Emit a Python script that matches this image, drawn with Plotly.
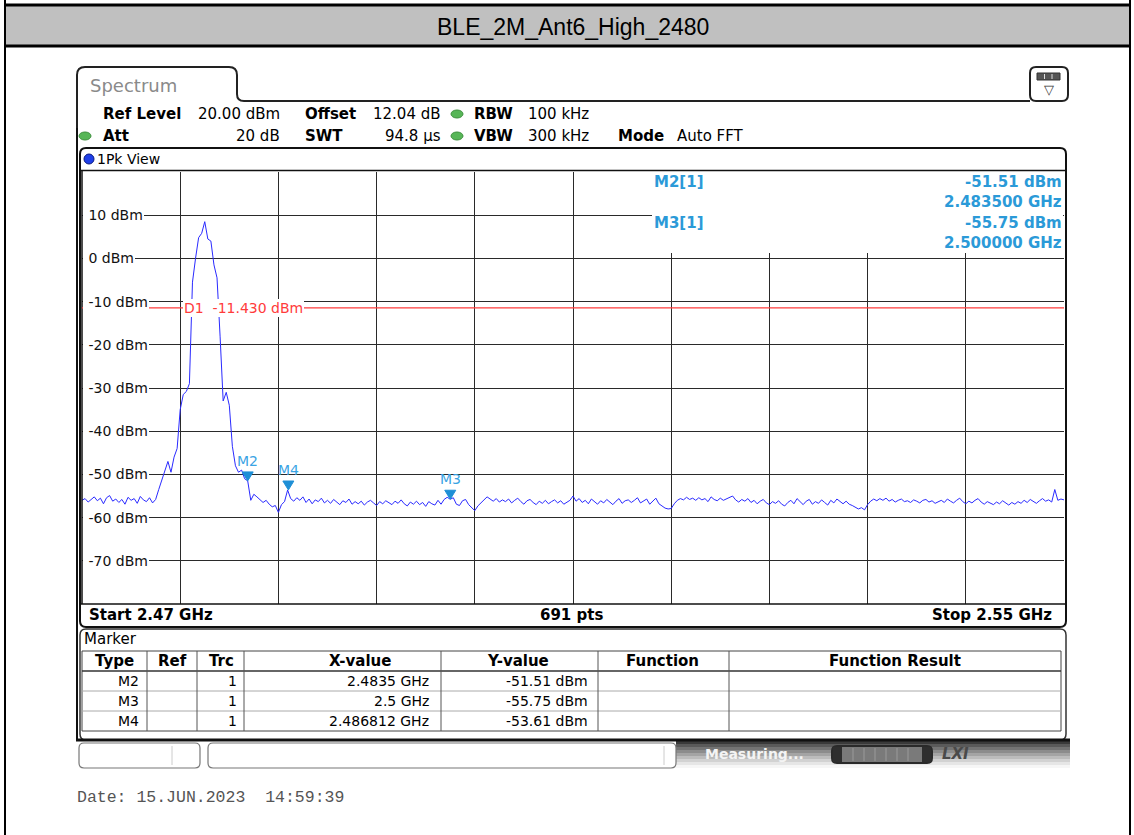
import numpy as np
import plotly.graph_objects as go

# ---------------- sweep / trace data ----------------
start_ghz = 2.47
stop_ghz = 2.55
sweep_points = 691

# Trace 1 (1Pk), dBm, read every 0.25 MHz from 2.470 to 2.550 GHz
trace_dbm = [
    -56.0, -55.6, -56.4, -55.9, -55.2, -56.1, -55.5, -56.8, -55.4, -54.9,
    -56.2, -55.7, -56.5, -55.8, -56.9, -55.3, -56.0, -55.6, -56.7, -55.1,
    -55.9, -56.3, -55.4, -56.6, -55.8, -53.5, -51.5, -49.0, -47.0, -49.5,
    -46.0, -44.0, -35.0, -31.5, -30.8, -29.0, -5.5, 0.0, 4.8, 5.8,
    8.5, 4.5, 4.0, -1.5, -4.5, -18.0, -33.0, -31.0, -34.0, -43.5,
    -48.0, -49.5, -49.0, -51.0, -51.51, -56.0, -54.6, -55.2, -55.8, -56.5,
    -56.0, -56.9, -57.5, -57.2, -58.8, -57.0, -56.3, -53.61, -55.6, -56.2,
    -55.4, -56.0, -55.2, -56.5, -55.7, -56.8, -55.9, -56.3, -55.5, -56.6,
    -56.0, -56.7, -55.8, -56.4, -57.0, -56.1, -56.5, -55.7, -56.9, -56.3,
    -56.8, -56.2, -57.1, -56.4, -56.0, -56.6, -57.2, -56.3, -56.8, -56.1,
    -56.5, -57.0, -56.2, -56.7, -55.9, -56.8, -57.3, -56.4, -56.9, -56.2,
    -57.0, -56.5, -57.4, -56.3, -56.8, -57.1, -56.0, -56.9, -55.8, -55.3,
    -55.75, -55.4, -56.9, -57.2, -56.1, -55.8, -57.0, -57.6, -58.4, -57.3,
    -56.5, -55.9, -55.2, -55.8, -56.2, -55.6, -56.4, -55.9, -56.3, -55.7,
    -56.6, -56.0, -55.5, -56.3, -56.9, -56.1, -55.8, -56.5, -57.0, -56.2,
    -56.7, -56.0, -56.8, -56.3, -55.9, -56.6, -56.1, -56.9, -56.4, -56.0,
    -55.0, -56.2, -55.6, -56.5, -56.0, -56.8, -55.7, -56.4, -56.9, -56.1,
    -56.6, -55.8, -56.3, -57.0, -56.2, -55.6, -56.7, -56.1, -55.9, -56.5,
    -56.0, -55.4, -56.6, -56.2, -55.7, -56.9, -56.3, -55.5, -56.8, -57.4,
    -57.8, -58.0, -57.9, -56.8, -56.0, -55.6, -55.9, -55.3, -55.8, -55.5,
    -56.0, -55.4, -55.9, -55.6, -56.3, -55.2, -55.8, -56.1, -55.5, -56.0,
    -55.7, -55.3, -55.0, -55.9, -56.4, -55.8, -56.2, -55.6, -56.5, -56.0,
    -56.8, -56.2, -55.8, -56.6, -57.0, -56.3, -56.7, -56.1, -56.9, -57.3,
    -56.5, -56.0, -56.8, -55.6, -56.4, -57.0, -56.2, -55.8, -56.9, -56.3,
    -56.7, -55.9, -56.5, -57.1, -56.0, -56.6, -55.7, -56.3, -56.8, -56.2,
    -56.9, -57.2, -57.6, -58.0, -57.7, -58.2, -57.0, -56.2, -55.7, -56.1,
    -55.6, -56.0, -55.5, -56.2, -55.8, -56.4, -56.0, -55.7, -56.3, -56.1,
    -56.5, -55.9, -56.2, -56.6, -56.0, -55.8, -56.4, -56.1, -56.7, -56.3,
    -56.0, -56.5, -55.7, -56.2, -56.6, -56.0, -55.5, -56.3, -56.8, -56.2,
    -56.6, -56.0, -55.6, -56.4, -56.9, -56.3, -56.7, -57.0, -56.4, -56.8,
    -56.1, -56.6, -57.1, -56.5, -56.9, -56.3, -56.7, -56.0, -56.5, -55.8,
    -56.3, -56.7, -56.1, -55.6, -56.2, -55.9, -56.4, -53.5, -56.0, -55.7, -55.9,
]
freq_ghz = np.linspace(start_ghz, stop_ghz, len(trace_dbm))

# Markers
marker_names = ["M2", "M3", "M4"]
marker_freq_ghz = [2.4835, 2.5, 2.486812]
marker_freq_text = ["2.4835 GHz", "2.5 GHz", "2.486812 GHz"]
marker_level_dbm = [-51.51, -55.75, -53.61]

# Display line D1
d1_level_dbm = -11.430

# Level axis labels
level_ticks = [10, 0, -10, -20, -30, -40, -50, -60, -70]

# Instrument settings
ref_level = "20.00 dBm"
offset = "12.04 dB"
rbw = "100 kHz"
att = "20 dB"
swt = "94.8 µs"
vbw = "300 kHz"
mode = "Auto FFT"
title = "BLE_2M_Ant6_High_2480"
date_text = "Date: 15.JUN.2023&nbsp;&nbsp;14:59:39"

# ---------------- page geometry helpers (pixel -> paper) ----------------
W, H = 1134, 835
PL, PR, PT, PB = 82, 1064, 172, 604


def X(px):
    return (px - PL) / (PR - PL)


def Y(py):
    return (PB - py) / (PB - PT)


shapes = []
annotations = []
NONE = "rgba(0,0,0,0)"


def rect(x0, y0, x1, y1, fill=None, line=None, lw=1, layer="above"):
    shapes.append(dict(type="rect", xref="paper", yref="paper",
                       x0=X(x0), x1=X(x1), y0=Y(y1), y1=Y(y0),
                       fillcolor=fill or NONE,
                       line=dict(color=line or NONE, width=lw if line else 0),
                       layer=layer))


def seg(x0, y0, x1, y1, color="black", lw=1, layer="above"):
    shapes.append(dict(type="line", xref="paper", yref="paper",
                       x0=X(x0), y0=Y(y0), x1=X(x1), y1=Y(y1),
                       line=dict(color=color, width=lw), layer=layer))


def pt(a, b):
    return f"{X(a):.5f},{Y(b):.5f}"


def rrect(x0, y0, x1, y1, r, fill=None, line="black", lw=1, layer="above"):
    path = (f"M {pt(x0 + r, y0)} L {pt(x1 - r, y0)} Q {pt(x1, y0)} {pt(x1, y0 + r)} "
            f"L {pt(x1, y1 - r)} Q {pt(x1, y1)} {pt(x1 - r, y1)} L {pt(x0 + r, y1)} "
            f"Q {pt(x0, y1)} {pt(x0, y1 - r)} L {pt(x0, y0 + r)} Q {pt(x0, y0)} {pt(x0 + r, y0)} Z")
    shapes.append(dict(type="path", xref="paper", yref="paper", path=path,
                       fillcolor=fill or NONE, line=dict(color=line, width=lw),
                       layer=layer))


def ellipse(cx, cy, rx, ry, fill, line=None):
    shapes.append(dict(type="circle", xref="paper", yref="paper",
                       x0=X(cx - rx), x1=X(cx + rx), y0=Y(cy + ry), y1=Y(cy - ry),
                       fillcolor=fill, line=dict(color=line or fill, width=1),
                       layer="above"))


def txt(px, py, s, size=15, color="black", bold=False, anchor="left",
        family="DejaVu Sans", bg=None, italic=False):
    if bold:
        s = f"<b>{s}</b>"
    if italic:
        s = f"<i>{s}</i>"
    annotations.append(dict(xref="paper", yref="paper", x=X(px), y=Y(py),
                            text=s, showarrow=False, xanchor=anchor,
                            yanchor="middle", borderpad=0, borderwidth=0,
                            bgcolor=bg or NONE,
                            font=dict(size=size, color=color, family=family)))


# ---------------- page frame and title band ----------------
rect(5, 5, 1130, 46, fill="#c0c0c0")
seg(4, 5, 1131, 5, lw=3)
seg(4, 46, 1131, 46, lw=3)
seg(5, 0, 5, 835, lw=2)
seg(1130, 0, 1130, 835, lw=2)
txt(573, 27, title, size=23, family="Liberation Sans, Arial", anchor="center")

# ---------------- spectrum window ----------------
tab_path = (f"M {pt(77, 130)} L {pt(77, 75)} Q {pt(77, 67)} {pt(85, 67)} "
            f"L {pt(229, 67)} Q {pt(237, 67)} {pt(237, 75)} L {pt(237, 94)} "
            f"Q {pt(237, 101)} {pt(244, 101)} L {pt(1030, 101)}")
shapes.append(dict(type="path", xref="paper", yref="paper", path=tab_path,
                   line=dict(color="#222", width=2), layer="above"))
seg(77, 128, 77, 740, color="#111", lw=2)
txt(90, 85, "Spectrum", size=18, color="#8a8a8a")

# window menu icon (top right)
rrect(1030, 67, 1068, 101, 6, fill="white", line="#222", lw=2)
rect(1037, 73, 1060, 80, fill="#555", line="#333", lw=1)
seg(1044.5, 74, 1044.5, 79, color="#ddd")
seg(1052, 74, 1052, 79, color="#ddd")
txt(1049, 90, "▽", size=13, color="#333", anchor="center")

# settings rows
txt(103, 114, "Ref Level", bold=True)
txt(280, 114, ref_level, anchor="right")
txt(305, 114, "Offset", bold=True)
txt(441, 114, offset, anchor="right")
ellipse(457, 114, 6, 4, "#57b657", "#3c8f3c")
txt(474, 114, "RBW", bold=True)
txt(528, 114, rbw)

ellipse(85, 136, 6, 4, "#57b657", "#3c8f3c")
txt(103, 136, "Att", bold=True)
txt(280, 136, att, anchor="right")
txt(305, 136, "SWT", bold=True)
txt(441, 136, swt, anchor="right")
ellipse(457, 136, 6, 4, "#57b657", "#3c8f3c")
txt(474, 136, "VBW", bold=True)
txt(528, 136, vbw)
txt(618, 136, "Mode", bold=True)
txt(677, 136, mode)

# diagram frame
rrect(80, 148, 1066, 627, 6, line="#111", lw=2)
seg(80, 170.5, 1066, 170.5, color="#111", lw=1.5)
seg(81, 604, 1066, 604, color="#111", lw=1.5)
seg(82, 170, 82, 604, color="#111", lw=1.5)
ellipse(89, 159, 5, 5, "#1f3fe8", "#0a1a80")
txt(97, 159, "1Pk View", size=14)

# marker info box (covers the grid at the top right)
rect(652, 172, 1063, 253, fill="white")
mk_blue = "#2b9ad8"
txt(654, 182, "M2[1]", bold=True, color=mk_blue)
txt(1062, 182, f"{marker_level_dbm[0]:.2f} dBm", bold=True, color=mk_blue, anchor="right")
txt(1062, 202, f"{marker_freq_ghz[0]:.6f} GHz", bold=True, color=mk_blue, anchor="right")
txt(654, 223, "M3[1]", bold=True, color=mk_blue)
txt(1062, 223, f"{marker_level_dbm[1]:.2f} dBm", bold=True, color=mk_blue, anchor="right")
txt(1062, 243, f"{marker_freq_ghz[1]:.6f} GHz", bold=True, color=mk_blue, anchor="right")

# level labels drawn on the grid
for lv in level_ticks:
    annotations.append(dict(xref="paper", yref="y", x=X(83), y=lv,
                            text=f"&nbsp;{lv} dBm", showarrow=False, xanchor="left",
                            yanchor="middle", bgcolor="white", borderpad=1,
                            borderwidth=0,
                            font=dict(size=14, color="#111", family="DejaVu Sans")))

# display line D1
shapes.append(dict(type="line", xref="paper", yref="y", x0=0, x1=1,
                   y0=d1_level_dbm, y1=d1_level_dbm,
                   line=dict(color="#ff3b3b", width=1.2), layer="above"))
annotations.append(dict(xref="paper", yref="y", x=X(183), y=d1_level_dbm,
                        text=f"D1&nbsp;&nbsp;{d1_level_dbm:.3f} dBm",
                        showarrow=False, xanchor="left", yanchor="middle",
                        bgcolor="white", borderpad=1, borderwidth=0,
                        font=dict(size=14, color="#ff3b3b", family="DejaVu Sans")))

# marker symbols on the trace
for name, mf, ml in zip(marker_names, marker_freq_ghz, marker_level_dbm):
    shapes.append(dict(type="path", xref="x", yref="y", xsizemode="pixel",
                       ysizemode="pixel", xanchor=mf, yanchor=ml,
                       path="M -5.5,9 L 5.5,9 L 0,0 Z",
                       fillcolor="#1e8fd6", line=dict(color="#1e8fd6", width=1),
                       layer="above"))
    annotations.append(dict(xref="x", yref="y", x=mf, y=ml, text=name,
                            showarrow=False, xanchor="center", yanchor="middle",
                            yshift=20,
                            font=dict(size=14, color="#3aa4e4", family="DejaVu Sans")))

# sweep footer
txt(89, 615, "Start 2.47 GHz", bold=True)
txt(571, 615, f"{sweep_points} pts", bold=True, anchor="center")
txt(1052, 615, "Stop 2.55 GHz", bold=True, anchor="right")

# ---------------- marker table ----------------
rrect(80, 629, 1066, 740, 6, line="#333", lw=1.5)
txt(84, 639, "Marker", size=15)
rect(82, 651, 1061, 731, fill="white", line="#444", lw=1)
seg(82, 671, 1061, 671, color="#333", lw=1.5)
seg(82, 691, 1061, 691, color="#aaa")
seg(82, 711, 1061, 711, color="#aaa")
for cx in [147, 197, 244, 441, 598, 729]:
    seg(cx, 651, cx, 731, color="#555")
headers = [("Type", 114), ("Ref", 172), ("Trc", 221), ("X-value", 360),
           ("Y-value", 518), ("Function", 662), ("Function Result", 895)]
for h, cx in headers:
    txt(cx, 661, h, bold=True, anchor="center")
row_y = [681, 701, 721]
order = [0, 1, 2]
for k, ry in zip(order, row_y):
    txt(139, ry, marker_names[k], size=14, anchor="right")
    txt(237, ry, "1", size=14, anchor="right")
    txt(429, ry, marker_freq_text[k], size=14, anchor="right")
    txt(588, ry, f"{marker_level_dbm[k]:.2f} dBm", size=14, anchor="right")

# ---------------- status bar ----------------
grad = ["#3a3a3a", "#5a5a5a", "#747474", "#8c8c8c", "#a4a4a4",
        "#bcbcbc", "#d2d2d2", "#e6e6e6", "#f6f6f6"]
for i, c in enumerate(grad):
    rect(676, 741 + 3 * i, 1070, 744 + 3 * i, fill=c)
seg(76, 740, 1070, 740, color="#111", lw=3)
rrect(79, 743, 200, 768, 5, fill="white", line="#777", lw=1.2)
seg(172, 746, 172, 765, color="#ccc")
rrect(208, 743, 676, 768, 5, fill="white", line="#777", lw=1.2)
seg(664, 746, 664, 765, color="#ccc")
txt(705, 754, "Measuring...", size=14, color="#f4f4f4", bold=True)
rrect(832, 746, 932, 763, 5, fill="#7a7a7a", line="#2a2a2a", lw=2)
rect(833, 747, 842, 762, fill="#2e2e2e")
rect(922, 747, 931, 762, fill="#2e2e2e")
for sx in [853, 864, 875, 886, 897, 908]:
    seg(sx, 748, sx, 761, color="#9a9a9a")
txt(942, 754, "LXI", size=15, color="#4a4a4a", bold=True, italic=True)

# date stamp
txt(77, 797, date_text, size=16.5, color="#555", family="Liberation Mono, Courier New")

# ---------------- figure ----------------
fig = go.Figure()
fig.add_trace(go.Scatter(x=freq_ghz, y=trace_dbm, mode="lines",
                         line=dict(color="#2a2aff", width=1),
                         hoverinfo="skip", showlegend=False))

fig.update_layout(
    width=W, height=H,
    margin=dict(l=PL, r=W - PR, t=PT, b=H - PB, pad=0),
    paper_bgcolor="white", plot_bgcolor="white",
    showlegend=False,
    xaxis=dict(range=[start_ghz, stop_ghz], tick0=start_ghz, dtick=0.008,
               showgrid=True, gridcolor="#2a2a2a", gridwidth=1,
               showticklabels=False, zeroline=False, showline=False,
               ticks="", fixedrange=True),
    yaxis=dict(range=[-80, 20], tick0=0, dtick=10,
               showgrid=True, gridcolor="#2a2a2a", gridwidth=1,
               showticklabels=False, zeroline=False, showline=False,
               ticks="", fixedrange=True),
    shapes=shapes,
    annotations=annotations,
)

fig.write_html("out.html")
